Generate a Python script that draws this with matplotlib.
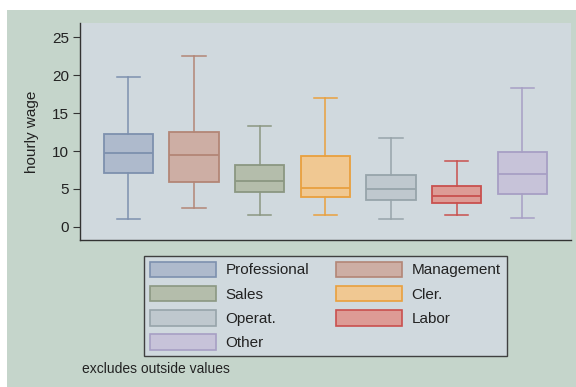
import matplotlib
matplotlib.use("Agg")
import matplotlib.pyplot as plt
from matplotlib.patches import Rectangle, Patch

plt.rcParams['font.family'] = ['Liberation Sans', 'DejaVu Sans']

categories = ["Professional", "Management", "Sales", "Cler.", "Operat.", "Labor", "Other"]
whislo = [1.01, 2.43, 1.58, 1.54, 1.01, 1.50, 1.15]
q1 = [7.04, 5.86, 4.62, 3.88, 3.52, 3.13, 4.27]
med = [9.69, 9.50, 6.03, 5.11, 5.02, 4.10, 7.00]
q3 = [12.20, 12.54, 8.14, 9.29, 6.86, 5.33, 9.86]
whishi = [19.76, 22.60, 13.29, 17.03, 11.75, 8.63, 18.27]
yticks = [0, 5, 10, 15, 20, 25]

fills = ["#aebacc", "#cdaea4", "#b4bdab", "#f0c892", "#bfc8ce", "#dd9b95", "#c7c3d9"]
edges = ["#7d90ae", "#b38676", "#8b9782", "#e9a03e", "#97a4aa", "#c9504e", "#a79fc4"]

outer_bg = "#c5d5cb"
inner_bg = "#d0d9de"

fig = plt.figure(figsize=(5.76, 3.87), dpi=100)
fig.patch.set_facecolor("white")
fig.add_artist(Rectangle((7/576, 0), 1 - 7/576, 1 - 10/387, transform=fig.transFigure,
                         facecolor=outer_bg, edgecolor="none", zorder=-10))

ax = fig.add_axes([80/576, 1 - 240/387, (571-80)/576, (240-23)/387])
ax.set_facecolor(inner_bg)

positions = list(range(1, len(categories) + 1))
for i, cat in enumerate(categories):
    st = [dict(whislo=whislo[i], q1=q1[i], med=med[i], q3=q3[i], whishi=whishi[i], fliers=[])]
    ax.bxp(st, positions=[positions[i]], widths=0.75, patch_artist=True, showfliers=False,
           boxprops=dict(facecolor=fills[i], edgecolor=edges[i], linewidth=1.3),
           medianprops=dict(color=edges[i], linewidth=1.3),
           whiskerprops=dict(color=edges[i], linewidth=1.1),
           capprops=dict(color=edges[i], linewidth=1.1),
           capwidths=0.355, manage_ticks=False)

ax.set_xlim(0.265, 7.74)
ax.set_ylim(-1.75, 26.9)
ax.set_xticks([])
ax.set_yticks(yticks)
ax.set_yticklabels([str(t) for t in yticks], fontsize=11, color="#222222")
ax.tick_params(axis='y', direction='out', length=5, width=0.8, color="#333333", pad=3)
for s in ["top", "right"]:
    ax.spines[s].set_visible(False)
for s in ["left", "bottom"]:
    ax.spines[s].set_color("#333333")
    ax.spines[s].set_linewidth(1.0)
ax.set_ylabel("hourly wage", fontsize=11, color="#222222", labelpad=9)

handles = [Patch(facecolor=fills[i], edgecolor=edges[i], linewidth=1.2, label=categories[i])
           for i in range(len(categories))]
order = [0, 2, 4, 6, 1, 3, 5]
leg = fig.legend([handles[k] for k in order], [categories[k] for k in order],
                 ncol=2, loc="upper center", bbox_to_anchor=(325.3/576, 1 - 255.7/387),
                 fontsize=11, frameon=True, fancybox=False, shadow=False,
                 handlelength=4.3, handleheight=1.18, labelspacing=0.55,
                 handletextpad=0.65, columnspacing=1.76, borderpad=0.38,
                 borderaxespad=0)
leg.get_frame().set_facecolor(inner_bg)
leg.get_frame().set_edgecolor("#404040")
leg.get_frame().set_linewidth(1.0)
leg.get_frame().set_alpha(1)
for t in leg.get_texts():
    t.set_color("#222222")

fig.text(82/576, 1 - 369/387, "excludes outside values", fontsize=10, color="#222222",
         ha="left", va="center")

fig.savefig("out.png", dpi=100, facecolor=fig.get_facecolor())
